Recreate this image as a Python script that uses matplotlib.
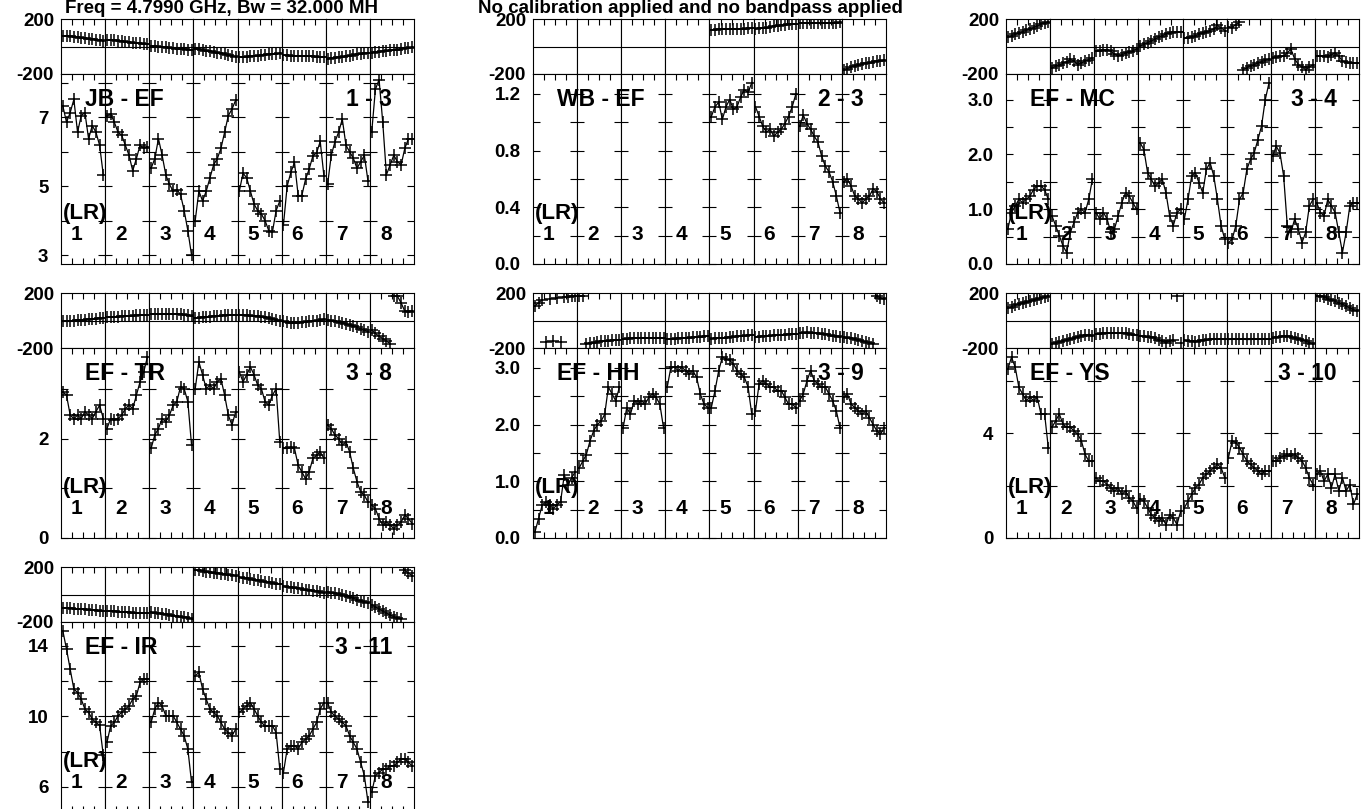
import numpy as np
import matplotlib
matplotlib.use('Agg')
import matplotlib.pyplot as plt

plt.rcParams['font.family'] = ['Liberation Sans', 'DejaVu Sans']
plt.rcParams['font.weight'] = 'bold'

W, H = 1371, 809
n_if = 8
n_chan = 12
if_labels = ['1', '2', '3', '4', '5', '6', '7', '8']

baselines = ['JB - EF', 'WB - EF', 'EF - MC', 'EF - TR', 'EF - HH', 'EF - YS', 'EF - IR']
antenna_pairs = ['1 - 3', '2 - 3', '3 - 4', '3 - 8', '3 - 9', '3 - 10', '3 - 11']

# amplitude per IF (12 channels each), phase in degrees
amp_jb_ef = [
    [7.33, 6.86, 7.14, 7.52, 6.57, 7.05, 7.14, 6.38, 6.76, 6.57, 6.19, 5.33],
    [7.05, 7.1, 6.86, 6.57, 6.48, 6.19, 5.9, 5.45, 5.8, 6.19, 6.1, 6.14],
    [5.52, 5.8, 6.38, 5.9, 5.33, 5.05, 4.86, 4.9, 4.76, 4.29, 3.71, 3.0],
    [4.0, 4.86, 4.57, 4.86, 5.24, 5.62, 5.8, 6.1, 6.57, 7.05, 7.24, 7.5],
    [4.86, 5.38, 5.24, 4.86, 4.48, 4.29, 4.19, 4.0, 3.71, 3.67, 4.29, 4.57],
    [3.88, 5.0, 5.4, 5.69, 4.73, 4.73, 5.2, 5.5, 5.88, 5.97, 6.3, 5.3],
    [5.05, 5.9, 6.29, 6.57, 6.95, 6.19, 6.0, 5.81, 5.52, 5.71, 5.9, 5.14],
    [6.57, 7.81, 8.1, 6.86, 5.33, 5.62, 5.9, 5.71, 5.62, 6.1, 6.38, 6.38],
]
phase_jb_ef = [
    [79, 76, 73, 70, 68, 64, 61, 58, 54, 50, 47, 43],
    [49, 46, 44, 41, 38, 35, 32, 29, 26, 23, 20, 17],
    [5, 2, 0, -3, -6, -9, -12, -15, -17, -20, -22, -25],
    [-15, -20, -25, -30, -35, -40, -45, -50, -55, -62, -68, -74],
    [-74, -76, -73, -70, -68, -66, -64, -60, -58, -55, -52, -49],
    [-62, -65, -66, -68, -69, -70, -70, -71, -72, -73, -74, -76],
    [-89, -86, -82, -78, -74, -70, -66, -62, -58, -54, -50, -44],
    [-44, -42, -38, -35, -32, -28, -25, -22, -18, -14, -10, -7],
]

amp_wb_ef = [
    None, None, None, None,
    [1.04, 1.11, 1.14, 1.02, 1.11, 1.16, 1.09, 1.11, 1.18, 1.23, 1.21, 1.28],
    [1.11, 1.04, 0.97, 0.93, 0.95, 0.9, 0.93, 0.95, 0.99, 1.04, 1.11, 1.2],
    [0.97, 1.05, 0.99, 0.95, 0.9, 0.86, 0.76, 0.69, 0.65, 0.58, 0.48, 0.36],
    [0.58, 0.6, 0.55, 0.48, 0.46, 0.43, 0.46, 0.48, 0.53, 0.51, 0.46, 0.43],
]
phase_wb_ef = [
    None, None, None, None,
    [121, 123, 124, 125, 126, 126, 127, 128, 129, 130, 131, 132],
    [128, 132, 135, 138, 142, 146, 150, 154, 158, 161, 163, 165],
    [168, 169, 170, 170, 171, 171, 172, 172, 173, 173, 174, 175],
    [-173, -160, -150, -140, -135, -128, -122, -117, -112, -107, -103, -99],
]

amp_ef_mc = [
    [0.64, 0.94, 1.06, 1.18, 1.12, 1.18, 1.24, 1.36, 1.42, 1.42, 1.36, 1.18],
    [0.88, 0.7, 0.52, 0.33, 0.21, 0.58, 0.76, 0.94, 1.0, 0.94, 1.18, 1.55],
    [0.94, 0.82, 0.94, 0.82, 0.58, 0.64, 0.88, 1.12, 1.3, 1.24, 1.12, 1.0],
    [2.21, 2.09, 1.67, 1.55, 1.42, 1.48, 1.55, 1.3, 0.88, 0.7, 0.94, 1.0],
    [0.82, 1.18, 1.61, 1.67, 1.48, 1.3, 1.73, 1.85, 1.61, 1.18, 0.7, 0.45],
    [0.39, 0.45, 0.7, 1.18, 1.3, 1.73, 1.91, 2.03, 2.27, 2.52, 3.0, 3.3],
    [1.97, 2.15, 2.03, 1.61, 0.7, 0.58, 0.82, 0.64, 0.39, 0.58, 1.06, 1.18],
    [1.12, 0.94, 0.88, 1.18, 1.06, 0.94, 0.58, 0.21, 0.58, 1.06, 1.12, 1.12],
]
phase_ef_mc = [
    [67, 78, 88, 98, 108, 118, 128, 138, 150, 162, 172, 180],
    [-156, -145, -135, -123, -110, -94, -105, -131, -120, -106, -95, -81],
    [-32, -30, -28, -25, -35, -55, -69, -60, -48, -40, -30, -20],
    [5, 15, 28, 40, 54, 66, 78, 91, 98, 104, 102, 104],
    [59, 65, 72, 79, 88, 98, 108, 116, 130, 153, 135, 116],
    [141, 138, 160, 178, -168, -155, -140, -131, -120, -110, -100, -94],
    [-81, -78, -72, -69, -45, -20, -90, -131, -150, -168, -150, -131],
    [-69, -72, -70, -74, -60, -44, -70, -106, -112, -118, -120, -123],
]

amp_ef_tr = [
    [2.94, 2.87, 2.47, 2.4, 2.47, 2.4, 2.54, 2.47, 2.4, 2.54, 2.67, 2.4],
    [2.2, 2.4, 2.37, 2.4, 2.47, 2.6, 2.67, 2.6, 2.87, 3.14, 3.34, 3.64],
    [1.8, 2.07, 2.2, 2.4, 2.34, 2.47, 2.67, 2.74, 3.04, 3.0, 2.74, 1.87],
    [3.0, 3.54, 3.28, 3.0, 3.07, 3.0, 3.14, 3.2, 2.87, 2.47, 2.27, 2.54],
    [3.34, 3.14, 3.28, 3.44, 3.28, 3.07, 3.0, 2.74, 2.67, 2.87, 3.0, 1.93],
    [1.8, 1.8, 1.83, 1.8, 1.46, 1.33, 1.19, 1.33, 1.6, 1.66, 1.73, 1.6],
    [2.27, 2.2, 2.07, 2.0, 1.87, 1.93, 1.73, 1.4, 1.13, 0.93, 0.86, 0.72],
    [0.66, 0.59, 0.39, 0.26, 0.32, 0.26, 0.19, 0.26, 0.32, 0.46, 0.39, 0.29],
]
phase_ef_tr = [
    [-7, -5, -2, 0, 3, 5, 7, 9, 11, 13, 15, 17],
    [25, 26, 27, 28, 30, 31, 33, 35, 37, 39, 40, 42],
    [47, 48, 49, 49, 50, 50, 49, 48, 46, 42, 37, 30],
    [17, 20, 23, 26, 29, 31, 33, 35, 37, 39, 41, 42],
    [42, 40, 38, 36, 34, 31, 28, 24, 19, 13, 7, 0],
    [-7, -12, -17, -20, -18, -14, -10, -6, -3, 0, 5, 10],
    [5, 0, -6, -12, -18, -25, -32, -40, -50, -60, -70, -81],
    [-69, -94, -115, -131, -150, -168, 178, 176, 128, 67, 59, 67],
]

amp_ef_hh = [
    [0.1, 0.34, 0.58, 0.64, 0.58, 0.52, 0.58, 0.64, 1.11, 0.94, 1.06, 1.17],
    [1.23, 1.35, 1.47, 1.71, 1.89, 2.0, 2.06, 2.18, 2.66, 2.54, 2.42, 2.66],
    [1.94, 2.3, 2.18, 2.42, 2.36, 2.42, 2.36, 2.48, 2.54, 2.48, 2.36, 1.94],
    [2.66, 3.01, 3.01, 2.95, 3.01, 2.95, 2.89, 2.95, 2.83, 2.54, 2.36, 2.3],
    [2.3, 2.6, 2.95, 3.19, 3.16, 3.13, 3.07, 2.95, 2.89, 2.83, 2.66, 2.18],
    [2.24, 2.72, 2.77, 2.72, 2.66, 2.66, 2.6, 2.6, 2.48, 2.36, 2.36, 2.3],
    [2.42, 2.54, 2.77, 2.95, 2.77, 2.72, 2.66, 2.66, 2.54, 2.42, 2.24, 1.94],
    [2.48, 2.54, 2.36, 2.3, 2.24, 2.18, 2.24, 2.12, 2.0, 1.89, 1.83, 1.94],
]
phase_ef_hh = [
    [104, 130, 150, -155, 158, -150, 165, -155, 170, 172, 175, 178],
    [178, 179, -170, -165, -160, -156, -152, -150, -148, -145, -143, -142],
    [-136, -133, -130, -128, -127, -126, -126, -126, -127, -127, -128, -128],
    [-136, -134, -132, -130, -128, -126, -124, -122, -120, -118, -116, -114],
    [-131, -130, -128, -126, -124, -121, -118, -115, -112, -110, -108, -106],
    [-119, -117, -115, -113, -111, -109, -107, -105, -103, -101, -100, -99],
    [-89, -88, -87, -88, -90, -93, -96, -100, -105, -110, -116, -123],
    [-119, -125, -130, -136, -142, -148, -155, -162, -170, 178, 165, 155],
]

amp_ef_ys = [
    [6.45, 6.9, 6.52, 5.75, 5.5, 5.24, 5.37, 5.24, 5.37, 4.73, 4.73, 3.45],
    [4.22, 4.47, 4.73, 4.35, 4.22, 4.22, 4.09, 3.96, 3.71, 3.19, 2.94, 2.94],
    [2.3, 2.17, 2.17, 2.04, 1.92, 1.79, 1.92, 1.66, 1.79, 1.53, 1.41, 1.15],
    [1.47, 1.41, 1.15, 0.89, 0.77, 0.64, 0.77, 0.51, 0.89, 0.77, 0.51, 1.02],
    [1.15, 1.41, 1.66, 1.92, 2.04, 2.3, 2.43, 2.56, 2.68, 2.81, 2.68, 2.3],
    [3.07, 3.71, 3.64, 3.45, 3.19, 2.94, 2.81, 2.68, 2.56, 2.43, 2.56, 2.56],
    [2.94, 2.94, 3.07, 3.13, 3.19, 3.13, 3.19, 3.07, 2.94, 2.68, 2.3, 2.04],
    [2.43, 2.56, 2.17, 2.43, 1.92, 2.43, 1.79, 2.3, 1.79, 2.04, 1.28, 1.66],
]
phase_ef_ys = [
    [91, 100, 110, 118, 126, 132, 140, 148, 155, 163, 172, 179],
    [-168, -162, -155, -148, -143, -136, -128, -119, -112, -106, -108, -114],
    [-99, -96, -93, -90, -89, -89, -90, -92, -94, -98, -102, -106],
    [-114, -116, -119, -123, -130, -140, -150, -163, -150, -143, 178, -163],
    [-143, -148, -152, -156, -150, -145, -140, -135, -131, -133, -136, -138],
    [-138, -137, -137, -136, -137, -138, -138, -137, -136, -136, -136, -136],
    [-126, -122, -118, -114, -116, -120, -125, -131, -140, -150, -160, -168],
    [178, 176, 170, 160, 150, 140, 128, 118, 105, 92, 79, 67],
]

amp_ef_ir = [
    [14.86, 13.82, 12.68, 11.55, 11.36, 10.98, 10.42, 10.23, 9.85, 9.66, 9.5, 7.8],
    [8.53, 9.47, 9.66, 10.04, 10.23, 10.42, 10.6, 10.98, 11.17, 11.93, 12.12, 12.12],
    [9.66, 10.42, 10.79, 10.6, 10.04, 10.04, 10.04, 9.66, 9.28, 8.9, 8.15, 6.26],
    [12.31, 12.5, 11.55, 10.98, 10.42, 10.23, 10.04, 9.66, 9.28, 9.09, 8.9, 9.28],
    [10.23, 10.42, 10.6, 10.79, 10.42, 10.04, 9.66, 9.47, 9.47, 9.47, 9.09, 7.01],
    [6.82, 8.15, 8.34, 8.34, 8.15, 8.53, 8.71, 8.9, 9.28, 9.66, 10.42, 10.79],
    [10.79, 10.23, 10.04, 9.85, 9.66, 9.47, 8.9, 8.53, 8.15, 7.39, 6.64, 5.12],
    [5.69, 6.64, 6.82, 7.01, 7.01, 7.2, 7.2, 7.39, 7.58, 7.58, 7.39, 7.2],
]
phase_ef_ir = [
    [-95, -97, -100, -102, -104, -106, -108, -110, -113, -115, -118, -120],
    [-120, -121, -123, -124, -126, -128, -129, -131, -132, -134, -136, -137],
    [-130, -133, -137, -141, -145, -149, -153, -157, -162, -166, -170, -175],
    [178, 175, 171, 167, 163, 159, 155, 151, 147, 143, 140, 137],
    [125, 121, 117, 112, 107, 102, 98, 93, 88, 84, 80, 75],
    [62, 58, 54, 49, 45, 41, 36, 32, 27, 22, 17, 12],
    [20, 14, 8, 2, -5, -12, -20, -28, -37, -45, -53, -62],
    [-75, -90, -105, -120, -135, -150, -160, -170, -178, 175, 155, 137],
]

amps = [amp_jb_ef, amp_wb_ef, amp_ef_mc, amp_ef_tr, amp_ef_hh, amp_ef_ys, amp_ef_ir]
phases = [phase_jb_ef, phase_wb_ef, phase_ef_mc, phase_ef_tr, phase_ef_hh, phase_ef_ys, phase_ef_ir]

# amplitude axis ranges and ticks for each baseline
amp_ylim = [(2.74, 8.26), (0.0, 1.34), (0.0, 3.47), (0.0, 3.82), (0.0, 3.35), (0.0, 7.25), (4.58, 15.36)]
amp_ticks = [[3, 5, 7], [0.0, 0.4, 0.8, 1.2], [0.0, 1.0, 2.0, 3.0], [0, 2],
             [0.0, 1.0, 2.0, 3.0], [0, 4], [6, 10, 14]]
amp_minor = [[4, 6, 8], [0.2, 0.6, 1.0], [0.5, 1.5, 2.5], [1, 3], [0.5, 1.5, 2.5], [2, 6], [8, 12]]
amp_fmt = ['%d', '%.1f', '%.1f', '%d', '%.1f', '%d', '%d']

# panel layout in pixels (left, top of phase box)
panel_pos = [(61, 19), (533, 19), (1006, 19), (61, 293), (533, 293), (1006, 293), (61, 567)]
panel_w = 353
ph_h = 55
amp_h = 190
if_w = panel_w / n_if

fig = plt.figure(figsize=(W / 100, H / 100), dpi=100)


def break_wraps(x, y):
    xs, ys = [x[0]], [y[0]]
    for j in range(1, len(x)):
        if abs(y[j] - y[j - 1]) > 180:
            xs.append(np.nan)
            ys.append(np.nan)
        xs.append(x[j])
        ys.append(y[j])
    return xs, ys


def style_axis(ax):
    ax.set_xlim(0, n_chan)
    ax.set_xticks([3, 6, 9])
    ax.tick_params(axis='x', which='both', direction='in', length=4, width=0.8,
                   labelbottom=False, labeltop=False)
    for s in ax.spines.values():
        s.set_linewidth(0.8)


for k in range(len(baselines)):
    x0, y0 = panel_pos[k]
    chan = np.arange(n_chan) + 0.5
    for i in range(n_if):
        left = (x0 + i * if_w) / W
        axp = fig.add_axes([left, 1 - (y0 + ph_h) / H, if_w / W, ph_h / H])
        axa = fig.add_axes([left, 1 - (y0 + ph_h + amp_h) / H, if_w / W, amp_h / H])

        # phase box
        style_axis(axp)
        axp.set_ylim(-200, 200)
        axp.set_yticks([-200, 200])
        axp.set_yticklabels(['-200', '200'])
        axp.tick_params(axis='x', top=True, bottom=False)
        axp.tick_params(axis='y', direction='in', length=0, labelsize=13.5, pad=5,
                        labelleft=(i == 0))
        axp.axhline(0, color='black', lw=0.8)
        if phases[k][i] is not None:
            xs, ys = break_wraps(chan, phases[k][i])
            axp.plot(xs, ys, color='black', lw=0.9, marker='+', ms=8, mew=1.1)

        # amplitude box
        style_axis(axa)
        axa.set_ylim(*amp_ylim[k])
        axa.set_yticks(amp_ticks[k])
        axa.set_yticklabels([amp_fmt[k] % t for t in amp_ticks[k]])
        axa.set_yticks(amp_minor[k], minor=True)
        axa.tick_params(axis='x', top=True, bottom=True)
        axa.tick_params(axis='y', which='both', direction='in', left=True, right=True,
                        length=5, width=0.8, labelsize=13.5, pad=9, labelleft=(i == 0))
        if amps[k][i] is not None:
            axa.plot(chan, amps[k][i], color='black', lw=0.9, marker='+', ms=8, mew=1.1)
        axa.text(0.36, 0.153, if_labels[i], transform=axa.transAxes, ha='center',
                 va='center', fontsize=15, fontweight='bold')

    amp_top = y0 + ph_h
    fig.text((x0 + 24) / W, 1 - (amp_top + 26) / H, baselines[k], ha='left',
             va='center', fontsize=16.5, fontweight='bold')
    fig.text((x0 + panel_w - 22) / W, 1 - (amp_top + 26) / H, antenna_pairs[k],
             ha='right', va='center', fontsize=16.5, fontweight='bold')
    fig.text((x0 + 2) / W, 1 - (amp_top + 139) / H, '(LR)', ha='left',
             va='center', fontsize=16, fontweight='bold')

fig.text(65 / W, 1 - 13 / H, 'Freq = 4.7990 GHz, Bw = 32.000 MH', ha='left',
         va='baseline', fontsize=13.5, fontweight='bold')
fig.text(478 / W, 1 - 13 / H, 'No calibration applied and no bandpass applied',
         ha='left', va='baseline', fontsize=13.5, fontweight='bold')

fig.savefig('out.png', dpi=100)
